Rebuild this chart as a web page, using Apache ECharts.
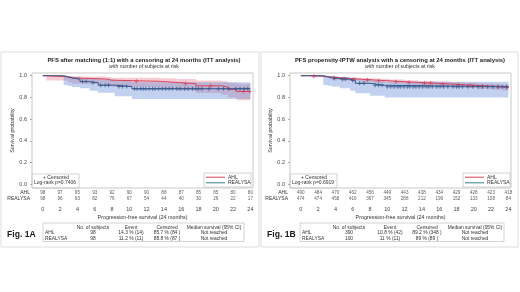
<!DOCTYPE html>
<html><head><meta charset="utf-8">
<script src="https://cdn.jsdelivr.net/npm/echarts@6/dist/echarts.min.js"></script>
<style>html,body{margin:0;padding:0;background:#fff}#c{width:520px;height:292px}</style>
</head><body><div id="c"></div>
<script>
// ================= DATA =================
var monthTicks = [0, 2, 4, 6, 8, 10, 12, 14, 16, 18, 20, 22, 24];
var survTicks = [0, 0.2, 0.4, 0.6, 0.8, 1.0];
var groupNames = ['AHL', 'REALYSA'];

// ---- Fig. 1A ----
var titleA = 'PFS after matching (1:1) with a censoring at 24 months (ITT analysis)';
var subtitleA = 'with number of subjects at risk';
var logrankA = 'Log-rank p=0.7406';
var ahlA_t = [0, 0.4, 2.9, 3.4, 7.4, 7.9, 13.6, 15.4, 17.7, 20.6, 21.4, 22.4];
var ahlA_s = [1, 0.99, 0.98, 0.969, 0.959, 0.948, 0.938, 0.927, 0.907, 0.896, 0.874, 0.855];
var ahlA_bandT = [0.4, 2.9, 3.4, 7.4, 7.9, 13.6, 15.4, 17.7, 20.6, 21.4, 22.4];
var ahlA_lo = [0.955, 0.94, 0.925, 0.91, 0.895, 0.88, 0.865, 0.84, 0.825, 0.80, 0.775];
var ahlA_hi = [1.0, 0.998, 0.993, 0.988, 0.982, 0.976, 0.969, 0.955, 0.948, 0.935, 0.925];
var ahlA_cens = [10.8, 16.5, 19.4, 23.2, 23.9];
var relA_t = [0, 2.4, 2.9, 3.4, 4.3, 5.4, 6.4, 8.3, 10.3];
var relA_s = [1, 0.99, 0.979, 0.968, 0.946, 0.935, 0.913, 0.9, 0.88];
var relA_bandT = [2.4, 2.9, 3.4, 4.3, 5.4, 6.4, 8.3, 10.3];
var relA_lo = [0.914, 0.905, 0.895, 0.884, 0.862, 0.844, 0.81, 0.785];
var relA_hi = [0.998, 0.995, 0.99, 0.98, 0.975, 0.965, 0.955, 0.94];
var relA_cens = [4.6, 5.0, 5.8, 6.7, 7.2, 7.6, 8.8, 9.2, 9.7, 10.6, 10.9, 11.3, 11.6, 11.9, 12.3, 12.7, 13.0, 13.4, 13.8, 14.2, 14.6, 15.0, 15.5, 15.9, 16.4, 16.8, 17.3, 17.7, 18.0, 18.4, 19.2, 20.3, 20.9, 21.5, 22.3, 22.8, 23.3, 23.7];
var riskA_ahl = [98, 97, 95, 93, 92, 90, 90, 88, 87, 85, 85, 80, 80];
var riskA_rel = [98, 96, 93, 82, 76, 67, 54, 44, 40, 30, 26, 22, 17];
var tableHead = ['No. of subjects', 'Event', 'Censored', 'Median survival (95% CI)'];
var tableA_ahl = ['98', '14.3 % (14)', '85.7 % (84 )', 'Not reached'];
var tableA_rel = ['98', '11.2 % (11)', '88.8 % (87 )', 'Not reached'];
var figA = 'Fig. 1A';

// ---- Fig. 1B ----
var titleB = 'PFS propensity-IPTW analysis with a censoring at 24 months (ITT analysis)';
var subtitleB = 'with number of subjects at risk';
var logrankB = 'Log-rank p=0.6919';
var ahlB_t = [0, 1.2, 2.8, 3.3, 4.2, 5.5, 7.0, 8.4, 10.2, 12.0, 13.6, 15.5, 17.2, 19.0, 20.4, 22.2, 23.4];
var ahlB_s = [1, 0.995, 0.99, 0.982, 0.975, 0.968, 0.961, 0.953, 0.945, 0.938, 0.931, 0.924, 0.917, 0.911, 0.904, 0.897, 0.892];
var ahlB_bandT = [1.2, 2.8, 3.3, 4.2, 5.5, 7.0, 8.4, 10.2, 12.0, 13.6, 15.5, 17.2, 19.0, 20.4, 22.2, 23.4];
var ahlB_lo = [0.985, 0.978, 0.968, 0.96, 0.951, 0.943, 0.934, 0.925, 0.917, 0.909, 0.901, 0.893, 0.886, 0.878, 0.870, 0.864];
var ahlB_hi = [1.0, 0.998, 0.993, 0.988, 0.982, 0.977, 0.971, 0.964, 0.958, 0.952, 0.946, 0.940, 0.935, 0.929, 0.923, 0.919];
var ahlB_cens = [1.5, 3.8, 5.0, 6.2, 7.7, 9.0, 11.0, 12.5, 14.3, 15.0, 16.4, 18.2, 19.6, 21.0, 22.8, 23.8];
var relB_t = [0, 2.6, 3.1, 3.6, 4.5, 5.7, 6.3, 8.0, 9.7];
var relB_s = [1, 0.99, 0.982, 0.975, 0.968, 0.955, 0.93, 0.912, 0.898];
var relB_bandT = [2.6, 3.1, 3.6, 4.5, 5.7, 6.3, 8.0, 9.7];
var relB_lo = [0.914, 0.908, 0.9, 0.884, 0.862, 0.838, 0.815, 0.80];
var relB_hi = [0.999, 0.997, 0.993, 0.988, 0.98, 0.967, 0.955, 0.945];
var relB_cens = [3.9, 4.8, 5.2, 6.0, 6.8, 7.3, 8.6, 9.0, 9.4, 10.0, 10.4, 10.8, 11.2, 11.5, 11.9, 12.3, 12.6, 13.0, 13.3, 13.7, 14.1, 14.5, 14.8, 15.2, 15.7, 16.1, 16.5, 17.0, 17.6, 18.0, 18.3, 18.7, 19.3, 19.9, 20.5, 21.0, 21.6, 22.2, 22.8, 23.3, 23.8];
var riskB_ahl = [490, 484, 470, 462, 456, 449, 443, 438, 434, 429, 428, 423, 418];
var riskB_rel = [474, 474, 458, 416, 367, 345, 288, 212, 199, 152, 133, 108, 84];
var tableB_ahl = ['390', '10.8 % (42)', '89.2 % (348 )', 'Not reached'];
var tableB_rel = ['100', '11 % (11)', '89 % (89 )', 'Not reached'];
var figB = 'Fig. 1B';

var xAxisTitle = 'Progression-free survival (24 months)';
var yAxisTitle = 'Survival probability';
var censLabel = '+ Censored';

// ================= STYLE / BUILD =================
var FONT = '"Liberation Sans", Arial, sans-serif';
var C_AHL = '#d6435a', C_AHL_BAND = 'rgba(236,125,145,0.4)';
var C_REL = '#34568a', C_REL_BAND = 'rgba(100,140,215,0.4)';
var C_REL_LEG = '#3a7f86';
var END = 24, XMIN = -1.25, XMAX = 24.3, YMIN = -0.034, YMAX = 1.025;
var PLUS = 'path://M3,0H5V3H8V5H5V8H3V5H0V3H3Z';

function kmData(t, s) { var d = t.map(function (v, i) { return [v, s[i]]; }); d.push([END, s[s.length - 1]]); return d; }
function sAt(t, s, x) { var v = s[0]; for (var i = 0; i < t.length; i++) if (t[i] <= x) v = s[i]; return v; }
function band(T, lo, hi, color, xi, yi) {
  return { type: 'custom', xAxisIndex: xi, yAxisIndex: yi, data: [[T[0], lo[0]]], silent: true, z: 1,
    renderItem: function (p, api) {
      var pts = [], n = T.length, i, x2;
      for (i = 0; i < n; i++) { x2 = i < n - 1 ? T[i + 1] : END; pts.push(api.coord([T[i], hi[i]])); pts.push(api.coord([x2, hi[i]])); }
      for (i = n - 1; i >= 0; i--) { x2 = i < n - 1 ? T[i + 1] : END; pts.push(api.coord([x2, lo[i]])); pts.push(api.coord([T[i], lo[i]])); }
      return { type: 'polygon', shape: { points: pts }, style: { fill: color } };
    } };
}

var panels = [
  { left: 32, ahl: [ahlA_t, ahlA_s, ahlA_bandT, ahlA_lo, ahlA_hi, ahlA_cens], rel: [relA_t, relA_s, relA_bandT, relA_lo, relA_hi, relA_cens], risk: [riskA_ahl, riskA_rel] },
  { left: 290, ahl: [ahlB_t, ahlB_s, ahlB_bandT, ahlB_lo, ahlB_hi, ahlB_cens], rel: [relB_t, relB_s, relB_bandT, relB_lo, relB_hi, relB_cens], risk: [riskB_ahl, riskB_rel] }
];

var grids = [], xAxes = [], yAxes = [], series = [];
panels.forEach(function (P, k) {
  var gm = 2 * k, gr = 2 * k + 1;
  grids.push({ left: P.left, top: 73, width: 221, height: 115, show: true, borderColor: '#c8c8c8', borderWidth: 1, backgroundColor: 'transparent' });
  grids.push({ left: P.left, top: 190, width: 221, height: 12 });
  xAxes.push({ gridIndex: gm, type: 'value', min: XMIN, max: XMAX, show: false });
  xAxes.push({ gridIndex: gr, type: 'value', min: XMIN, max: XMAX,
    axisLine: { show: false, onZero: false }, axisTick: { show: false }, splitLine: { show: false },
    axisLabel: { customValues: monthTicks, fontSize: 5.5, color: '#444', margin: 4, fontFamily: FONT },
    name: xAxisTitle, nameLocation: 'middle', nameGap: 13,
    nameTextStyle: { fontSize: 5.4, color: '#333', fontFamily: FONT } });
  yAxes.push({ gridIndex: gm, type: 'value', min: YMIN, max: YMAX,
    axisLine: { show: false, onZero: false }, splitLine: { show: false },
    axisTick: { show: true, customValues: survTicks, length: 2, lineStyle: { color: '#999', width: 0.8 } },
    axisLabel: { customValues: survTicks, fontSize: 5.5, color: '#444', margin: 5, fontFamily: FONT,
      formatter: function (v) { return v.toFixed(1); } },
    name: yAxisTitle, nameLocation: 'middle', nameGap: 17,
    nameTextStyle: { fontSize: 5.3, color: '#333', fontFamily: FONT } });
  yAxes.push({ gridIndex: gr, type: 'category', data: ['REALYSA', 'AHL'],
    axisLine: { show: false, onZero: false }, axisTick: { show: false }, splitLine: { show: false },
    axisLabel: { interval: 0, hideOverlap: false, fontSize: 5, color: '#333', margin: 2, fontFamily: FONT } });

  var defs = [[groupNames[0], P.ahl, C_AHL, C_AHL_BAND], [groupNames[1], P.rel, C_REL, C_REL_BAND]];
  defs.forEach(function (d) {
    var D = d[1];
    series.push(band(D[2], D[3], D[4], d[3], gm, gm));
  });
  defs.forEach(function (d) {
    var D = d[1];
    series.push({ type: 'line', name: d[0], xAxisIndex: gm, yAxisIndex: gm, step: 'end', symbol: 'none',
      data: kmData(D[0], D[1]), lineStyle: { color: d[2], width: 1 }, itemStyle: { color: d[2] }, z: 3, silent: true });
    series.push({ type: 'scatter', name: d[0] + ' censored', xAxisIndex: gm, yAxisIndex: gm, symbol: PLUS, symbolSize: 4,
      data: D[5].map(function (t) { return [t, sAt(D[0], D[1], t)]; }), itemStyle: { color: d[2] }, z: 4, silent: true });
  });
  [0, 1].forEach(function (g) {
    series.push({ type: 'scatter', name: 'risk' + k + g, xAxisIndex: gr, yAxisIndex: gr, symbolSize: 0, silent: true,
      data: monthTicks.map(function (t, i) { return [t, groupNames[g], P.risk[g][i]]; }),
      label: { show: true, position: 'inside', fontSize: 4.6, color: '#333', fontFamily: FONT,
        formatter: function (p) { return p.value[2]; } } });
  });
});

function txt(x, y, s, size, align, bold, color) {
  return { type: 'text', x: x, y: y, silent: true, style: { text: s, fill: color || '#333', textAlign: align || 'left', textVerticalAlign: 'middle',
    font: (bold ? 'bold ' : '') + size + 'px ' + FONT } };
}
function rect(x, y, w, h, stroke) {
  return { type: 'rect', silent: true, shape: { x: x, y: y, width: w, height: h }, style: { fill: 'none', stroke: stroke || '#c8c8c8', lineWidth: 0.8 } };
}
function seg(x1, y, x2, color) {
  return { type: 'line', silent: true, shape: { x1: x1, y1: y, x2: x2, y2: y }, style: { stroke: color, lineWidth: 1 } };
}

var gfx = [];
gfx.push(rect(1, 52, 258, 195, '#d4d4d4'));
gfx.push(rect(261, 52, 257, 195, '#d4d4d4'));
gfx.push(txt(144, 60, titleA, 5.9, 'center', true, '#222'));
gfx.push(txt(144, 67, subtitleA, 5.2, 'center', false, '#333'));
gfx.push(txt(400, 60, titleB, 5.9, 'center', true, '#222'));
gfx.push(txt(400, 67, subtitleB, 5.2, 'center', false, '#333'));
[[32, logrankA], [290, logrankB]].forEach(function (b) {
  gfx.push(rect(b[0], 174, 47, 14));
  gfx.push(txt(b[0] + 24, 177.8, censLabel, 5, 'center', false, '#333'));
  gfx.push(txt(b[0] + 2, 183, b[1], 5, 'left', false, '#333'));
});
// group legends (AHL / REALYSA)
[204, 463].forEach(function (lx) {
  gfx.push(rect(lx, 173, 47, 14));
  gfx.push(seg(lx + 2, 177.2, lx + 21, C_AHL));
  gfx.push(seg(lx + 2, 182.8, lx + 21, C_REL_LEG));
  gfx.push(txt(lx + 24, 177.2, groupNames[0], 5, 'left', false, '#333'));
  gfx.push(txt(lx + 24, 182.8, groupNames[1], 5, 'left', false, '#333'));
});
[[43, 201, [93, 131, 167, 214], tableA_ahl, tableA_rel],
 [300, 204, [349, 390, 427, 475], tableB_ahl, tableB_rel]].forEach(function (T) {
  gfx.push(rect(T[0], 223, T[1], 18.5));
  tableHead.forEach(function (h, i) { gfx.push(txt(T[2][i], 227.3, h, 4.9, 'center', false, '#333')); });
  gfx.push(txt(T[0] + 2, 233, groupNames[0], 4.9, 'left', false, '#333'));
  gfx.push(txt(T[0] + 2, 238.5, groupNames[1], 4.9, 'left', false, '#333'));
  T[3].forEach(function (v, i) { gfx.push(txt(T[2][i], 233, v, 4.9, 'center', false, '#333')); });
  T[4].forEach(function (v, i) { gfx.push(txt(T[2][i], 238.5, v, 4.9, 'center', false, '#333')); });
});
gfx.push(txt(7, 235, figA, 8.6, 'left', true, '#1a1a1a'));
gfx.push(txt(267, 235, figB, 8.6, 'left', true, '#1a1a1a'));

var chart = echarts.init(document.getElementById('c'), null, { renderer: 'canvas' });
chart.setOption({
  animation: false,
  backgroundColor: '#fff',
  tooltip: { show: false },
  grid: grids, xAxis: xAxes, yAxis: yAxes,
  series: series,
  graphic: gfx
});
</script>
</body></html>
